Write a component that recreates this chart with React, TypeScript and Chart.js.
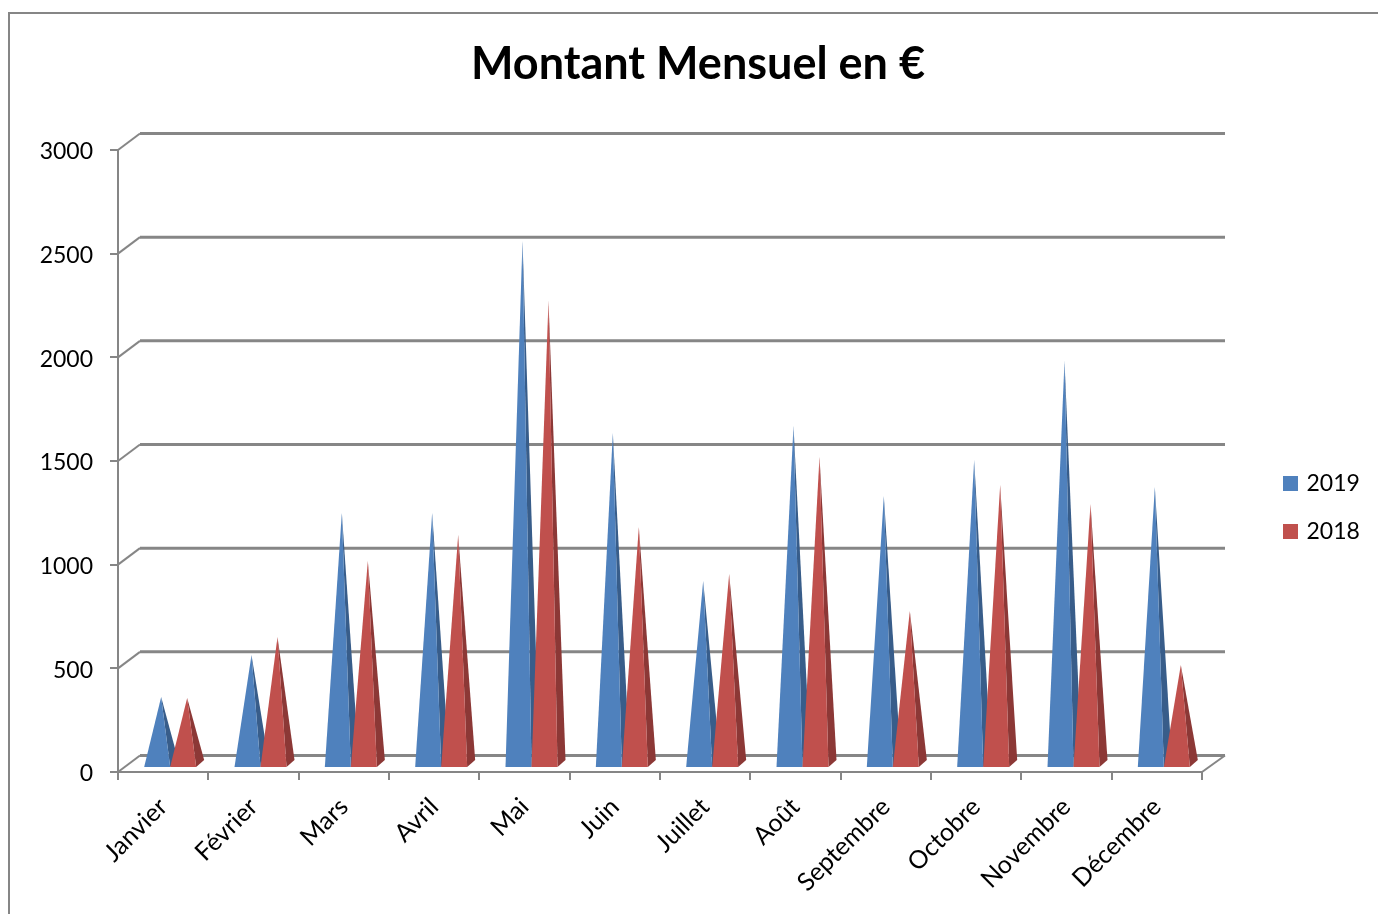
import React, { useEffect, useRef } from "react";
import { Chart, BarController, BarElement, CategoryScale, LinearScale, Title, Legend } from "chart.js";

const months = ["Janvier", "Février", "Mars", "Avril", "Mai", "Juin", "Juillet", "Août", "Septembre", "Octobre", "Novembre", "Décembre"];
const values2019 = [326, 528, 1213, 1213, 2525, 1599, 885, 1633, 1295, 1469, 1946, 1338];
const values2018 = [321, 615, 982, 1107, 2236, 1146, 919, 1483, 740, 1348, 1256, 480];
const yTickStep = 500;
const yMax = 3000;
const titleText = "Montant Mensuel en €";

const AXIS = "#868686";
const FONT = "Lato, 'Open Sans', sans-serif";
// pseudo-3D projection, in pixels
const WALL_DX = 22;
const WALL_DY = 16.5;
const DEPTH_DX = 8;
const DEPTH_DY = 7;
const FLOOR_LIFT = 4;
const GROUP_SHIFT = 7;

class PyramidElement extends BarElement {
  static id = "pyramid";
  static defaults = BarElement.defaults;
  draw(ctx: CanvasRenderingContext2D) {
    const { x, y, base, width } = (this as any).getProps(["x", "y", "base", "width"]);
    const o = (this as any).options;
    const left = x + GROUP_SHIFT - width / 2;
    const right = left + width;
    const floor = base - FLOOR_LIFT;
    const apexX = left + width / 2 + DEPTH_DX / 2;
    const apexY = y - (FLOOR_LIFT + DEPTH_DY / 2);
    ctx.save();
    ctx.fillStyle = o.borderColor;
    ctx.beginPath();
    ctx.moveTo(right, floor);
    ctx.lineTo(right + DEPTH_DX, floor - DEPTH_DY);
    ctx.lineTo(apexX, apexY);
    ctx.closePath();
    ctx.fill();
    ctx.fillStyle = o.backgroundColor;
    ctx.beginPath();
    ctx.moveTo(left, floor);
    ctx.lineTo(right, floor);
    ctx.lineTo(apexX, apexY);
    ctx.closePath();
    ctx.fill();
    ctx.restore();
  }
}

class PyramidController extends BarController {
  static id = "pyramid";
  static defaults = { ...BarController.defaults, dataElementType: "pyramid" };
  draw() {
    // month by month, left series first, so the right pyramid covers its neighbour
    if ((this as any).index !== 0) return;
    const chart = (this as any).chart;
    const metas = [...chart.getSortedVisibleDatasetMetas()];
    months.forEach((_, j) => {
      metas.forEach((m: any) => m.data[j] && m.data[j].draw(chart.ctx));
    });
  }
}

Chart.register(PyramidController, PyramidElement, CategoryScale, LinearScale, Title, Legend);

const LEGEND_PAD = 25;

const framePlugin = {
  id: "frame",
  beforeLayout(chart: any) {
    const legend = chart.legend;
    if (legend && !legend.__patched) {
      const fit = legend.fit;
      legend.fit = function () {
        fit.call(this);
        this.width = 176;
      };
      legend.__patched = true;
    }
  },
  afterLayout(chart: any) {
    const l = chart.legend;
    l.left = 1286 - LEGEND_PAD;
    l.right = 1378;
    l.top = 472 - LEGEND_PAD;
    l.bottom = 914;
    const t = chart.titleBlock;
    t.left = 18;
    t.right = 1378;
  },
  beforeDraw(chart: any) {
    const { ctx } = chart;
    ctx.save();
    ctx.strokeStyle = AXIS;
    ctx.lineWidth = 2;
    ctx.strokeRect(9, 13, 1500, 1100);
    ctx.restore();
  },
  beforeDatasetsDraw(chart: any) {
    const { ctx, chartArea, scales } = chart;
    const backLeft = chartArea.left + WALL_DX;
    const backRight = chartArea.right + 23;
    ctx.save();
    ctx.strokeStyle = AXIS;
    scales.y.ticks.forEach((t: any) => {
      const y = scales.y.getPixelForValue(t.value);
      ctx.lineWidth = 3;
      ctx.beginPath();
      ctx.moveTo(backLeft, y - WALL_DY);
      ctx.lineTo(backRight, y - WALL_DY);
      ctx.stroke();
      ctx.lineWidth = 2;
      ctx.beginPath();
      ctx.moveTo(chartArea.left, y);
      ctx.lineTo(backLeft, y - WALL_DY);
      ctx.stroke();
    });
    const y0 = scales.y.getPixelForValue(0);
    ctx.lineWidth = 2;
    ctx.beginPath();
    ctx.moveTo(chartArea.right, y0);
    ctx.lineTo(backRight, y0 - WALL_DY);
    ctx.stroke();
    ctx.restore();
  },
};

export default function App() {
  const ref = useRef<HTMLCanvasElement>(null);
  useEffect(() => {
    const chart = new Chart(ref.current!, {
      type: "pyramid" as any,
      data: {
        labels: months,
        datasets: [
          { label: "2019", data: values2019, backgroundColor: "#4F81BD", borderColor: "#385D8A", borderWidth: 0, clip: false } as any,
          { label: "2018", data: values2018, backgroundColor: "#C0504D", borderColor: "#8C3836", borderWidth: 0, clip: false } as any,
        ],
      },
      plugins: [framePlugin],
      options: {
        responsive: false,
        animation: false,
        events: [],
        layout: { padding: 0 },
        datasets: { pyramid: { categoryPercentage: 52 / 90.33, barPercentage: 1 } } as any,
        plugins: {
          title: {
            display: true,
            text: titleText,
            color: "#000",
            font: { family: FONT, size: 45, weight: "bold", lineHeight: 1.2 },
            padding: { top: 37, bottom: 59 },
          },
          legend: {
            display: true,
            position: "right",
            align: "start",
            labels: {
              boxWidth: 9,
              boxHeight: 9,
              color: "#000",
              font: { family: FONT, size: 23 },
              padding: LEGEND_PAD,
              generateLabels: (c: any) =>
                (Chart.defaults.plugins.legend.labels as any).generateLabels(c).map((i: any) => ({
                  ...i,
                  strokeStyle: i.fillStyle,
                  lineWidth: 6,
                  lineJoin: "miter",
                })),
            },
          },
          tooltip: { enabled: false },
        },
        scales: {
          x: {
            type: "category",
            afterFit: (s: any) => { s.height = 914 - 772; },
            grid: { drawOnChartArea: false, color: AXIS, lineWidth: 2, tickLength: 8 },
            border: { color: AXIS, width: 2 },
            ticks: { color: "#000", font: { family: FONT, size: 25 }, minRotation: 45, maxRotation: 45, padding: 12, autoSkip: false },
          },
          y: {
            type: "linear",
            min: 0,
            max: yMax,
            afterFit: (s: any) => { s.width = 118; },
            grid: { drawOnChartArea: false, color: AXIS, lineWidth: 2, tickLength: 8 },
            border: { color: AXIS, width: 2 },
            ticks: {
              color: "#000",
              font: { family: FONT, size: 23 },
              stepSize: yTickStep,
              padding: 17,
              labelOffset: 2,
              callback: (v: any) => String(v),
            },
          },
        },
      } as any,
    });
    return () => chart.destroy();
  }, []);
  return (
    <div style={{ position: "absolute", left: 0, top: 0, width: 1378, height: 914, overflow: "hidden", background: "#fff" }}>
      <canvas ref={ref} width={1378} height={914} style={{ display: "block" }} />
    </div>
  );
}
